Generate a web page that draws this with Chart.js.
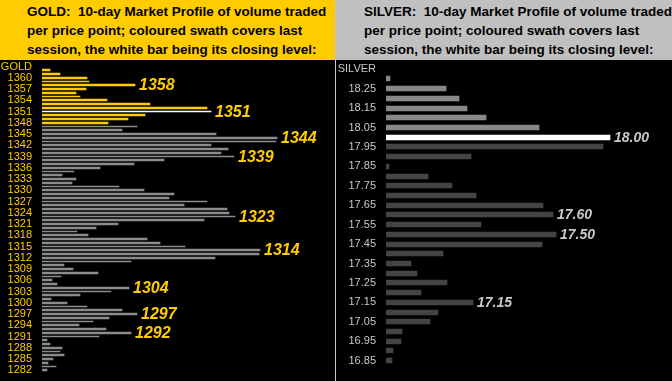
<!DOCTYPE html>
<html><head><meta charset="utf-8">
<script src="https://cdn.jsdelivr.net/npm/chart.js@4"></script>
<style>
html,body{margin:0;padding:0;background:#000;width:672px;height:381px;overflow:hidden;font-family:"Liberation Sans",Arial,sans-serif;}
#gold{position:absolute;left:0;top:0;width:335px;height:381px;background:#000;}
#silver{position:absolute;left:335px;top:0;width:337px;height:381px;background:#000;overflow:hidden;}
.title{position:absolute;left:0;top:0;height:60px;font-weight:bold;font-size:13.5px;line-height:19px;color:#000;box-sizing:border-box;padding-top:2px;white-space:nowrap;overflow:hidden;}
#gold .title{width:335px;background:#FFCC00;padding-left:27px;}
#silver .title{width:337px;background:#C0C0C0;padding-left:29px;}
#gc{position:absolute;left:0;top:60px;}
#sc{position:absolute;left:1px;top:60px;}
#sep{position:absolute;left:0;top:60px;width:1px;height:321px;background:#C8C8C8;}
</style></head><body>
<div id="gold"><div class="title">GOLD:&nbsp; 10-day Market Profile of volume traded<br>per price point; coloured swath covers last<br>session, the white bar being its closing level:</div><canvas id="gc" width="335" height="321"></canvas></div>
<div id="silver"><div class="title">SILVER:&nbsp; 10-day Market Profile of volume traded<br>per price point; coloured swath covers last<br>session, the white bar being its closing level:</div><div id="sep"></div><canvas id="sc" width="336" height="321"></canvas></div>
<script>
// ---------- GOLD ----------
const goldLevels = [1363,1362,1361,1360,1359,1358,1357,1356,1355,1354,1353,1352,1351,1350,1349,1348,1347,1346,1345,1344,1343,1342,1341,1340,1339,1338,1337,1336,1335,1334,1333,1332,1331,1330,1329,1328,1327,1326,1325,1324,1323,1322,1321,1320,1319,1318,1317,1316,1315,1314,1313,1312,1311,1310,1309,1308,1307,1306,1305,1304,1303,1302,1301,1300,1299,1298,1297,1296,1295,1294,1293,1292,1291,1290,1289,1288,1287,1286,1285,1284,1283,1282];
const goldVolume = [null,8,18,45,47,93,44,34,38,65,108,165,169,103,86,66,95,80,174,235,234,169,186,179,192,122,92,58,32,20,34,30,77,102,132,127,165,142,185,187,193,162,76,54,35,46,105,118,143,218,217,173,89,22,31,56,19,10,15,87,69,38,9,25,45,80,95,67,51,37,64,89,57,5,8,20,18,22,11,6,14,5];
const goldTickLabels = {1363:'GOLD'};
const goldTickValues = [1360,1357,1354,1351,1348,1345,1342,1339,1336,1333,1330,1327,1324,1321,1318,1315,1312,1309,1306,1303,1300,1297,1294,1291,1288,1285,1282];
const goldSwath = [1348,1362];
const goldClose = 1351;
const goldMarked = [1358,1351,1344,1339,1323,1314,1304,1297,1292];

// ---------- SILVER ----------
const silverLevels = ['18.35','18.30','18.25','18.20','18.15','18.10','18.05','18.00','17.95','17.90','17.85','17.80','17.75','17.70','17.65','17.60','17.55','17.50','17.45','17.40','17.35','17.30','17.25','17.20','17.15','17.10','17.05','17.00','16.95','16.90','16.85'];
const silverVolume = [null,4,60,73,81,100,153,224,217,85,3,42,66,90,157,167,95,170,156,57,25,31,61,35,87,52,44,16,15,7,6];
const silverTickLabels = {'18.35':'SILVER'};
const silverTickValues = ['18.25','18.15','18.05','17.95','17.85','17.75','17.65','17.55','17.45','17.35','17.25','17.15','17.05','16.95','16.85'];
const silverSwath = [18.00,18.30];
const silverClose = '18.00';
const silverMarked = ['18.00','17.60','17.50','17.15'];

function colorsFor(levels, swath, close, swathCol, baseCol){
  return levels.map(l => {
    if (String(l) === String(close)) return '#FFFFFF';
    const v = parseFloat(l);
    if (v >= swath[0] - 1e-9 && v <= swath[1] + 1e-9) return swathCol;
    return baseCol;
  });
}

// snap bar edges to whole pixels for crisp rendering
const snapPlugin = {
  id:'snap',
  beforeDatasetsDraw(chart){
    const meta = chart.getDatasetMeta(0);
    meta.data.forEach(el => {
      if (el._snapped) return;
      const h = el.height;
      let top = Math.round(el.y - h/2), bot = Math.round(el.y + h/2);
      if (bot <= top) bot = top + 1;
      el.y = (top + bot)/2; el.height = bot - top;
      el.x = Math.round(el.x); el.base = Math.round(el.base);
      el._snapped = true;
    });
  }
};

const markPlugin = {
  id:'marks',
  afterDatasetsDraw(chart){
    const o = chart.options.plugins.marks;
    const meta = chart.getDatasetMeta(0);
    const ctx = chart.ctx;
    ctx.save();
    ctx.font = o.font;
    ctx.fillStyle = o.color;
    ctx.textAlign = 'left';
    ctx.textBaseline = 'middle';
    const labels = chart.data.labels.map(String);
    o.levels.forEach(l => {
      const i = labels.indexOf(String(l));
      if (i < 0) return;
      const el = meta.data[i];
      ctx.fillText(String(l), el.x + o.offset, el.y + 1);
    });
    ctx.restore();
  }
};

function makeChart(id, levels, volume, colors, tickLabels, tickValues, tickColor, axisWidth, xMax, barTh, pad, marks){
  const showSet = new Set(tickValues.map(String));
  return new Chart(document.getElementById(id), {
    type:'bar',
    data:{labels:levels, datasets:[{data:volume, backgroundColor:colors, borderWidth:0, barThickness:barTh}]},
    plugins:[snapPlugin, markPlugin],
    options:{
      indexAxis:'y', responsive:false, animation:false, devicePixelRatio:1,
      layout:{padding:{top:pad[0], bottom:pad[1], left:0, right:0}},
      plugins:{legend:{display:false}, tooltip:{enabled:false}, marks:marks},
      scales:{
        x:{display:false, min:0, max:xMax},
        y:{
          grid:{display:false, drawTicks:false}, border:{display:false},
          afterFit(s){ s.width = axisWidth; s.paddingTop = 0; s.paddingBottom = 0; },
          ticks:{autoSkip:false, padding:10, color:tickColor,
            font:{family:'"Liberation Sans", Arial, sans-serif', size:11},
            callback(v){ const l = String(this.getLabelForValue(v));
              if (tickLabels[l]) return tickLabels[l];
              return showSet.has(l) ? l : ''; }
          }
        }
      }
    }
  });
}

makeChart('gc', goldLevels, goldVolume,
  colorsFor(goldLevels, goldSwath, goldClose, '#FFCC00', '#8C8C8C'),
  goldTickLabels, goldTickValues, '#FFCC00', 42, 293, 1.75, [4.7, 8.9],
  {levels:goldMarked, color:'#FFCC00', offset:4, font:'italic bold 16px "Liberation Sans Narrow", "Liberation Sans", Arial, sans-serif'});

makeChart('sc', silverLevels, silverVolume,
  colorsFor(silverLevels, silverSwath, silverClose, '#888888', '#444444'),
  silverTickLabels, silverTickValues, '#C8C8C8', 50, 286, 5, [4.4, 15.5],
  {levels:silverMarked, color:'#C8C8C8', offset:4, font:'italic bold 14px "Liberation Sans", Arial, sans-serif'});
</script>
</body></html>
